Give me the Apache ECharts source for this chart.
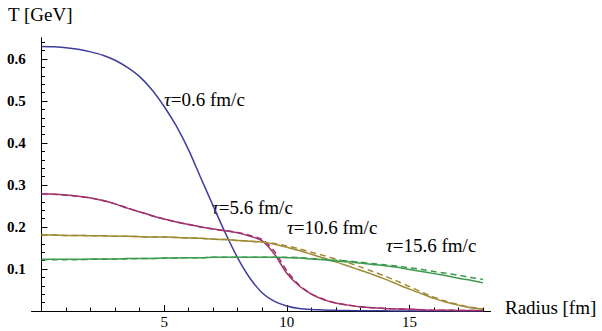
<!DOCTYPE html>
<html>
<head>
<meta charset="utf-8">
<script src="https://cdn.jsdelivr.net/npm/echarts@6/dist/echarts.min.js"></script>
<style>
html,body{margin:0;padding:0;background:#fff;}
#chart{width:602px;height:331px;}
</style>
</head>
<body>
<div id="chart"></div>
<script>
// Radius grid (fm)
var radius = [0,0.5,1,1.5,2,2.5,3,3.5,4,4.5,5,5.5,6,6.5,7,7.5,8,8.5,9,9.5,10,10.5,11,11.5,12,12.5,13,13.5,14,14.5,15,15.5,16,16.5,17,17.5,18];
// Temperature profiles (GeV)
var tau06 = [0.630,0.629,0.627,0.623,0.617,0.609,0.597,0.580,0.558,0.527,0.487,0.440,0.383,0.316,0.250,0.185,0.126,0.078,0.043,0.023,0.012,0.006,0.0035,0.0025,0.0015,0.001,0.0007,0.0005,0.0003,0.0002,0.0001,0,0,0,0,0,0];
var tau56 = [0.279,0.278,0.276,0.273,0.269,0.263,0.255,0.245,0.236,0.227,0.219,0.212,0.206,0.200,0.195,0.191,0.186,0.178,0.167,0.135,0.090,0.060,0.040,0.027,0.019,0.014,0.010,0.008,0.006,0.005,0.004,0.003,0.002,0.002,0.001,0.001,0.001];
var tau56d = [0.279,0.278,0.276,0.273,0.269,0.263,0.255,0.245,0.236,0.227,0.219,0.212,0.206,0.200,0.195,0.191,0.187,0.180,0.170,0.142,0.096,0.062,0.041,0.028,0.019,0.014,0.010,0.008,0.006,0.005,0.004,0.003,0.002,0.002,0.001,0.001,0.001];
var tau106 = [0.181,0.181,0.180,0.180,0.179,0.179,0.178,0.178,0.177,0.176,0.176,0.175,0.174,0.173,0.171,0.170,0.168,0.166,0.164,0.159,0.152,0.144,0.135,0.126,0.117,0.107,0.097,0.087,0.076,0.064,0.052,0.041,0.030,0.021,0.014,0.008,0.005];
var tau106d = [0.181,0.181,0.180,0.180,0.179,0.179,0.178,0.178,0.177,0.176,0.176,0.175,0.174,0.173,0.171,0.170,0.168,0.166,0.164,0.161,0.155,0.148,0.140,0.132,0.124,0.115,0.105,0.094,0.083,0.071,0.058,0.045,0.033,0.023,0.015,0.009,0.005];
var tau156 = [0.123,0.123,0.123,0.123,0.124,0.124,0.124,0.125,0.125,0.125,0.126,0.126,0.127,0.127,0.128,0.128,0.128,0.128,0.128,0.128,0.127,0.126,0.124,0.122,0.119,0.117,0.114,0.111,0.108,0.104,0.099,0.094,0.089,0.084,0.078,0.073,0.067];
var tau156d = [0.122,0.122,0.122,0.122,0.123,0.123,0.124,0.124,0.125,0.125,0.126,0.126,0.127,0.127,0.128,0.128,0.128,0.128,0.128,0.128,0.128,0.127,0.125,0.123,0.121,0.119,0.116,0.113,0.110,0.107,0.103,0.099,0.094,0.090,0.085,0.080,0.075];
// Axis ticks
var xMajorTicks = [5,10,15];
var xMinorTicks = [1,2,3,4,6,7,8,9,11,12,13,14,16,17,18];
var yMajorTicks = [0.1,0.2,0.3,0.4,0.5,0.6];
var yMinorTicks = [0.02,0.04,0.06,0.08,0.12,0.14,0.16,0.18,0.22,0.24,0.26,0.28,0.32,0.34,0.36,0.38,0.42,0.44,0.46,0.48,0.52,0.54,0.56,0.58,0.62,0.64];
// Labels
var curveLabels = ['0.6','5.6','10.6','15.6'];
var xTitle = 'Radius [fm]';
var yTitle = 'T [GeV]';

var colors = ['#3d3da0','#a0326e','#a08a36','#3c9a4e'];

function pairs(ys){ return radius.map(function(x,i){ return [x, ys[i]]; }); }

var FF = 'Liberation Serif';
var chart = echarts.init(document.getElementById('chart'), null, {renderer:'svg'});

function line(data, color, dashed){
  return {
    type:'line', data: pairs(data), xAxisIndex:0, yAxisIndex:0,
    showSymbol:false, smooth:0.3, silent:true, animation:false,
    lineStyle:{color:color, width:1.5, type: dashed ? [6,4] : 'solid'}
  };
}

var axisCommonX = {
  type:'value', min:-0.4, max:18.3, interval:0.1, position:'bottom',
  axisLine:{show:true, onZero:false, lineStyle:{color:'#000', width:1}},
  splitLine:{show:false}
};
var axisCommonY = {
  type:'value', min:0, max:0.65, interval:0.025, position:'left',
  axisLine:{show:true, onZero:true, lineStyle:{color:'#000', width:1}},
  splitLine:{show:false}
};

var labelRich = {
  i:{fontFamily:FF, fontStyle:'italic', fontSize:19, fill:'#000'},
  n:{fontFamily:FF, fontSize:19, fill:'#000'}
};

var labelPos = [[164,99],[212,207],[287,227],[386,245]];

var graphics = [
  {type:'text', x:8, y:5, style:{text:yTitle, fontFamily:FF, fontSize:19, fill:'#000'}},
  {type:'text', x:505, y:298, style:{text:xTitle, fontFamily:FF, fontSize:19, fill:'#000'}}
];
curveLabels.forEach(function(t,i){
  graphics.push({type:'text', x:labelPos[i][0], y:labelPos[i][1],
    style:{text:'{i|τ}{n|=' + t + ' fm/c}', fontFamily:FF, fontSize:19, fill:'#000', verticalAlign:'middle', rich:labelRich}});
});

chart.setOption({
  animation:false,
  backgroundColor:'#fff',
  grid:{left:31.7, right:111.6, top:38, bottom:20, containLabel:false, outerBoundsMode:'none'},
  xAxis:[
    Object.assign({}, axisCommonX, {
      axisTick:{show:true, inside:true, length:6, customValues:xMajorTicks, lineStyle:{color:'#000'}},
      axisLabel:{show:true, customValues:xMajorTicks, margin:3, color:'#000', fontSize:15, fontFamily:FF}
    }),
    Object.assign({}, axisCommonX, {
      axisTick:{show:true, inside:true, length:3.5, customValues:xMinorTicks, lineStyle:{color:'#000'}},
      axisLabel:{show:false}
    })
  ],
  yAxis:[
    Object.assign({}, axisCommonY, {
      axisTick:{show:true, inside:true, length:6, customValues:yMajorTicks, lineStyle:{color:'#000'}},
      axisLabel:{show:true, customValues:yMajorTicks, margin:6, color:'#000', fontSize:15, fontWeight:'bold', fontFamily:FF,
        formatter:function(v){ return v.toFixed(1); }}
    }),
    Object.assign({}, axisCommonY, {
      axisTick:{show:true, inside:true, length:3.5, customValues:yMinorTicks, lineStyle:{color:'#000'}},
      axisLabel:{show:false}
    })
  ],
  series:[
    line(tau06, colors[0], false),
    line(tau56, colors[1], false),
    line(tau56d, colors[1], true),
    line(tau106, colors[2], false),
    line(tau106d, colors[2], true),
    line(tau156, colors[3], false),
    line(tau156d, colors[3], true)
  ],
  graphic: graphics
});
</script>
</body>
</html>
